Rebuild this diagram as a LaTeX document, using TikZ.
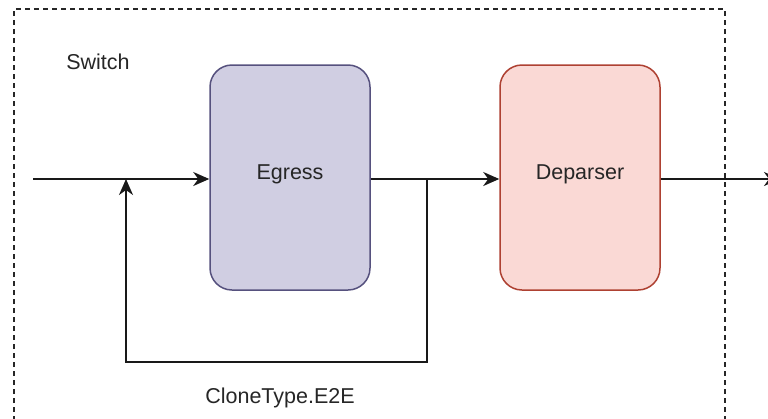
\documentclass[tikz,border=0pt]{standalone}
\usepackage{fontspec}
\setmainfont{Liberation Sans}
\usetikzlibrary{arrows.meta}
\definecolor{egfill}{HTML}{D0CEE2}
\definecolor{egline}{HTML}{56517E}
\definecolor{dpfill}{HTML}{FAD9D5}
\definecolor{dpline}{HTML}{AE4132}
\begin{document}
\begin{tikzpicture}[x=1pt,y=-1pt,
  blockbox/.style={draw, line width=1.5pt, rounded corners=22pt, minimum width=160pt, minimum height=225pt, inner sep=0pt, text=black!85, font=\fontsize{21.5}{26}\selectfont},
  conn/.style={line width=2pt, black!90},
  arr/.style={conn, -{Stealth[length=16pt,width=14pt,inset=5pt]}},
  lbl/.style={font=\fontsize{21.5}{26}\selectfont, text=black!85, inner sep=0pt}]
\useasboundingbox (0,0) rectangle (768,418);
\draw[line width=1.5pt, black!85, dash pattern=on 5pt off 4pt] (14,430) -- (14,9) -- (725,9) -- (725,430);
\node[lbl] (sw) at (98,62) {Switch};
\node[blockbox, fill=egfill, draw=egline] (eg) at (290,177.5) {};
\node[blockbox, fill=dpfill, draw=dpline] (dp) at (580,177.5) {};
\node[lbl] (egt) at (290,174) {Egress};
\node[lbl] (dpt) at (580,174) {Deparser};
\coordinate (in) at (33,179);
\coordinate (j1) at (126,179);
\coordinate (j2) at (427,179);
\coordinate (l1) at (427,362);
\coordinate (l2) at (126,362);
\coordinate (out) at (780,179);
\draw[arr] (in) -- (eg.west |- in);
\draw[arr] (eg.east |- j2) -- (dp.west |- j2);
\draw[arr] (j2) -- (l1) -- (l2) -- (j1);
\draw[arr] (dp.east |- out) -- (out);
\node[lbl] (ct) at (280,398) {CloneType.E2E};
\end{tikzpicture}
\end{document}
